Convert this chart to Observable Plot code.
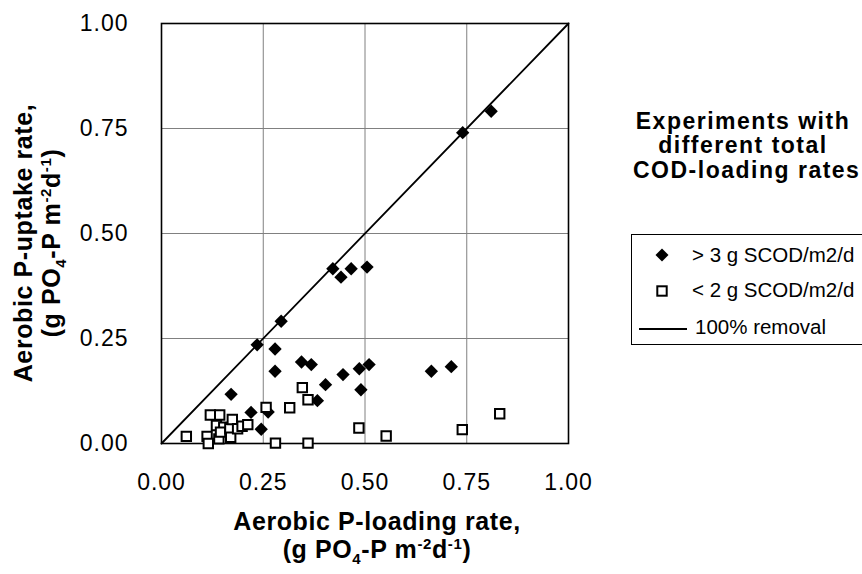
<!DOCTYPE html>
<html><head><meta charset="utf-8">
<script src="https://cdn.jsdelivr.net/npm/d3@7"></script>
<script src="https://cdn.jsdelivr.net/npm/@observablehq/plot@0.6"></script>
<style>
body{margin:0;background:#fff;}
#wrap{position:relative;width:862px;height:574px;overflow:hidden;background:#fff;font-family:"Liberation Sans",Arial,sans-serif;color:#000;}
#wrap svg{position:absolute;left:0;top:0;}
.ttl{position:absolute;font-weight:bold;font-size:25px;line-height:28px;letter-spacing:0.6px;text-align:center;white-space:nowrap;}
.ttl sub,.ttl sup{font-size:15px;line-height:0;}
.leg{position:absolute;font-weight:bold;font-size:23px;letter-spacing:1.5px;white-space:nowrap;text-align:center;line-height:24px;}
#legbox{position:absolute;left:631px;top:234px;width:260px;height:111px;border:1.5px solid #000;box-sizing:border-box;}
.ent{position:absolute;font-size:20.5px;white-space:nowrap;line-height:24px;}
g[aria-label$="tick label"] text{letter-spacing:1px;}
</style></head><body><div id="wrap"></div>
<script>
const xTicks = [0, 0.25, 0.5, 0.75, 1];
const yTicks = [0, 0.25, 0.5, 0.75, 1];
// > 3 g SCOD/m2/d (filled diamonds)
const highX = [0.810,0.740,0.663,0.712,0.421,0.441,0.466,0.505,0.294,0.235,0.279,0.279,0.344,0.368,0.446,0.403,0.486,0.510,0.490,0.171,0.220,0.245,0.383,0.262];
const highY = [0.791,0.740,0.172,0.183,0.416,0.396,0.416,0.420,0.291,0.235,0.225,0.172,0.194,0.188,0.164,0.140,0.178,0.188,0.128,0.117,0.074,0.034,0.102,0.075];
// < 2 g SCOD/m2/d (open squares)
const lowX = [0.061,0.112,0.115,0.120,0.143,0.135,0.153,0.141,0.145,0.168,0.170,0.174,0.187,0.198,0.212,0.257,0.280,0.315,0.346,0.360,0.360,0.485,0.552,0.739,0.831];
const lowY = [0.017,0.017,0.000,0.068,0.068,0.043,0.039,0.011,0.027,0.035,0.015,0.057,0.035,0.041,0.045,0.086,0.001,0.085,0.133,0.104,0.001,0.037,0.018,0.033,0.071];
// 100% removal line
const removalX = [0, 1];
const removalY = [0, 1];

const high = highX.map((x, i) => ({x, y: highY[i]}));
const low = lowX.map((x, i) => ({x, y: lowY[i]}));
const removal = removalX.map((x, i) => ({x, y: removalY[i]}));

const chart = Plot.plot({
  width: 862, height: 574,
  marginLeft: 161, marginRight: 294, marginTop: 23, marginBottom: 131,
  x: {domain: [0, 1]},
  y: {domain: [0, 1]},
  style: {fontFamily: '"Liberation Sans", Arial, sans-serif', background: "transparent", overflow: "visible", color: "#000"},
  marks: [
    Plot.gridX(xTicks, {stroke: "#808080", strokeOpacity: 1, strokeWidth: 1}),
    Plot.gridY(yTicks, {stroke: "#808080", strokeOpacity: 1, strokeWidth: 1}),
    Plot.line(removal, {x: "x", y: "y", stroke: "black", strokeWidth: 1.8}),
    Plot.frame({stroke: "black", strokeWidth: 1.6}),
    Plot.axisX(xTicks, {tickSize: 0, tickPadding: 30, tickFormat: d3.format(".2f"), fontSize: 23, label: null}),
    Plot.axisY(yTicks, {tickSize: 0, tickPadding: 33, tickFormat: d3.format(".2f"), fontSize: 23, label: null}),
    Plot.dot(high, {x: "x", y: "y", symbol: "diamond2", r: 6, fill: "black", stroke: "none"}),
    Plot.dot(low, {x: "x", y: "y", symbol: "square", r: 5.3, fill: "white", stroke: "black", strokeWidth: 2})
  ]
});
const wrap = document.getElementById("wrap");
wrap.appendChild(chart);

function add(html) { wrap.insertAdjacentHTML("beforeend", html); }
// axis titles
add('<div class="ttl" style="left:177px;top:507px;width:400px;">Aerobic P-loading rate,<br>(g PO<sub>4</sub>-P m<sup>-2</sup>d<sup>-1</sup>)</div>');
add('<div class="ttl" style="left:-163px;top:215px;width:400px;height:56px;transform:rotate(-90deg);transform-origin:center;">Aerobic P-uptake rate,<br>(g PO<sub>4</sub>-P m<sup>-2</sup>d<sup>-1</sup>)</div>');
// legend title
add('<div class="leg" style="left:593px;top:109px;width:300px;">Experiments with</div>');
add('<div class="leg" style="left:593px;top:133px;width:300px;">different total</div>');
add('<div class="leg" style="left:633px;top:158px;text-align:left;">COD-loading rates</div>');
// legend box
add('<div id="legbox"></div>');
add('<svg width="862" height="574" style="position:absolute;left:0;top:0;pointer-events:none">' +
    '<path d="M662,248.5L668.5,255L662,261.5L655.5,255Z" fill="black"/>' +
    '<rect x="657.3" y="286.3" width="9.4" height="9.4" fill="white" stroke="black" stroke-width="2"/>' +
    '<line x1="639" y1="329" x2="687" y2="329" stroke="black" stroke-width="1.8"/></svg>');
add('<div class="ent" style="left:692px;top:243px;">&gt; 3 g SCOD/m2/d</div>');
add('<div class="ent" style="left:692px;top:278px;">&lt; 2 g SCOD/m2/d</div>');
add('<div class="ent" style="left:695px;top:315px;">100% removal</div>');
</script></body></html>
